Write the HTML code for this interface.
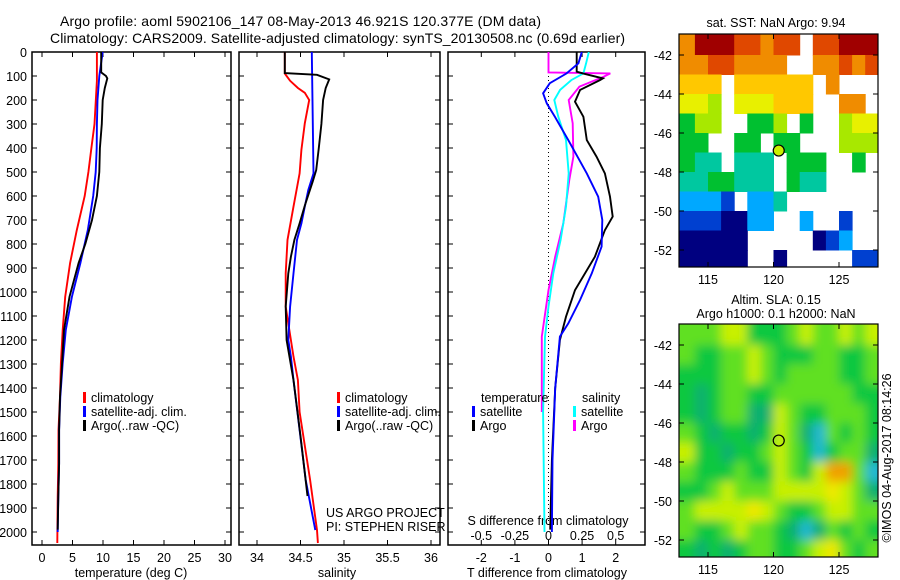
<!DOCTYPE html>
<html><head><meta charset="utf-8"><style>
html,body{margin:0;padding:0;background:#fff;}
svg{display:block;font-family:"Liberation Sans",sans-serif;}
text{font-size:12.5px;fill:#000;}
</style></head><body>
<svg id="fig" width="900" height="580" viewBox="0 0 900 580">
<defs>
<clipPath id="c1"><rect x="32" y="52" width="199" height="493"/></clipPath>
<clipPath id="c2"><rect x="239" y="52" width="201" height="493"/></clipPath>
<clipPath id="c3"><rect x="448" y="52" width="197" height="493"/></clipPath>
<clipPath id="cm1"><rect x="679" y="34" width="199" height="233"/></clipPath>
<clipPath id="cm2"><rect x="679" y="324" width="199" height="233"/></clipPath>
<filter id="blur" x="-5%" y="-5%" width="110%" height="110%"><feGaussianBlur stdDeviation="5"/></filter>
</defs>
<text x="60" y="26" textLength="481" style="font-size:14px">Argo profile: aoml 5902106_147 08-May-2013 46.921S 120.377E (DM data)</text>
<text x="50" y="43" textLength="575" style="font-size:14px">Climatology: CARS2009. Satellite-adjusted climatology: synTS_20130508.nc (0.69d earlier)</text>
<g id="layer"></g>
</svg>
<script>
// ---------- data ----------
const depthTicks = [0,100,200,300,400,500,600,700,800,900,1000,1100,1200,1300,1400,1500,1600,1700,1800,1900,2000];
const tempTicks = [0,5,10,15,20,25,30];
const salTicks = [34,34.5,35,35.5,36];
const tdiffTicks = [-2,-1,0,1,2];
const sdiffTickLabels = ["-0.5","-0.25","0","0.25","0.5"];
const latTicks = [-42,-44,-46,-48,-50,-52];
const lonTicks = [115,120,125];

const tempClimDepth = [0,120,300,400,500,600,742,879,1020,1158,1296,1437,1575,1715,1854,2046];
const tempClimVal = [9.0,9.0,8.6,8.1,7.6,7.0,5.7,4.6,3.8,3.4,3.1,2.95,2.7,2.68,2.57,2.5];
const tempSatDepth = [0,100,200,300,400,500,600,742,879,1020,1158,1296,1437,1575,1715,1854,2000];
const tempSatVal = [9.95,9.4,9.1,9.0,8.96,8.8,8.4,7.5,6.3,4.9,3.9,3.4,3.0,2.8,2.8,2.67,2.57];
const tempArgoDepth = [0,85,100,110,150,200,300,400,500,600,700,800,879,1020,1158,1296,1437,1575,1715,1854,1990];
const tempArgoVal = [9.7,9.7,10.5,10.7,10.3,9.95,9.8,9.5,9.4,9.0,8.2,7.1,6.0,4.5,3.6,3.3,2.95,2.8,2.8,2.67,2.57];

const salClimDepth = [0,90,100,120,150,170,200,297,408,506,644,783,853,922,1061,1131,1200,1269,1367,1500,1783,1992,2046];
const salClimVal = [34.32,34.32,34.34,34.38,34.47,34.55,34.60,34.55,34.51,34.49,34.42,34.35,34.34,34.33,34.33,34.36,34.39,34.42,34.47,34.49,34.61,34.69,34.70];
const salSatDepth = [0,506,575,644,714,783,922,1061,1200,1269,1367,1783,1992];
const salSatVal = [34.63,34.65,34.59,34.55,34.51,34.46,34.42,34.38,34.36,34.39,34.42,34.56,34.67];
const salArgoDepth = [0,88,95,114,150,200,300,400,492,540,640,714,783,853,922,1061,1200,1367,1600,1850];
const salArgoVal = [34.32,34.32,34.69,34.83,34.79,34.76,34.74,34.71,34.68,34.64,34.55,34.49,34.43,34.39,34.36,34.33,34.34,34.42,34.50,34.58];

const tdArgoDepth = [0,82,90,110,117,158,207,270,367,436,506,603,686,742,853,992,1103,1200,1400,1700,1990];
const tdArgoVal = [0.84,0.84,1.04,1.62,1.53,0.94,0.79,1.04,1.14,1.43,1.68,1.83,1.91,1.68,1.38,0.79,0.52,0.34,0.2,0.1,0.05];
const tdSatDepth = [0,47,89,130,172,214,270,367,506,603,700,811,922,1033,1131,1186,1400,1700,2000];
const tdSatVal = [0.99,0.89,0.54,0.04,-0.16,-0.05,0.19,0.59,1.14,1.48,1.60,1.58,1.29,0.94,0.59,0.34,0.2,0.12,0.1];
const sdSatDepth = [0,47,89,117,158,200,270,367,506,644,783,922,1061,1186,1500,2000];
const sdSatVal = [0.30,0.28,0.26,0.17,0.086,0.043,0.073,0.13,0.15,0.13,0.09,0.036,0,-0.026,-0.04,-0.03];
const sdArgoDepth = [0,85,89,103,144,200,297,436,533,714,853,992,1186,1500];
const sdArgoVal = [0,0,0.46,0.41,0.23,0.15,0.18,0.185,0.155,0.11,0.05,0,-0.05,-0.05];

const sstRows = [
"799988788.88999",
"77887777..77878",
"666.666666.7...",
"554.555666..77.",
"344..334.3..455",
"33..33.33...444",
"322.222.333..3.",
"2233222.322....",
"1110.112.......",
"000NN11..1..0..",
"NNNNN.....N01..",
"NNNNN..N.....00"
];
const slaRows = [
[5,5,5,6,6,4,4,4,5,6,5,5,6,5,6],
[5,4,4,5,5,6,5,4,4,4,5,5,4,4,5],
[4,4,4,5,5,6,5,4,5,5,5,5,4,4,5],
[4,3,4,5,5,4,4,5,5,5,5,5,5,4,4],
[4,3,4,5,5,3,3,6,5,4,4,5,5,5,4],
[5,4,3,4,4,3,4,6,5,3,2,5,4,5,4],
[6,4,4,3,4,4,5,6,5,4,2,4,5,5,3],
[5,4,4,4,5,4,4,6,5,4,6,8,8,5,2],
[4,4,5,6,5,5,5,6,6,6,6,7,6,5,3],
[5,6,6,6,6,7,6,5,4,4,5,6,6,5,5],
[5,4,4,5,6,5,5,4,3,2,3,5,4,5,4],
[4,3,4,3,4,5,5,4,4,5,6,7,5,4,5]
];
const argoLon = 120.4, argoLat = -46.9;

// ---------- helpers ----------
const NS = "http://www.w3.org/2000/svg";
const layer = document.getElementById('layer');
function mk(tag, attrs, parent){ const e=document.createElementNS(NS,tag); for(const k in attrs) e.setAttribute(k,attrs[k]); (parent||layer).appendChild(e); return e; }
function txt(x,y,s,anchor,parent){ const t=mk('text',{x:x,y:y,'text-anchor':anchor||'start'},parent); t.textContent=s; return t; }

const yD = d => 52 + d*0.24;
const xT = v => 42 + v*6.1;
const xS = v => 257 + (v-34)*87;
const xTd = v => 548.5 + v*33.6;
const xSd = v => 548.5 + v*134.4;

function panel(x0,w,name){
  const r=mk('rect',{x:x0,y:52,width:w,height:493,fill:'none',stroke:'#000','stroke-width':1.5});
  
  
}
function xticks(xs, fn){
  xs.forEach(v=>{ const x=fn(v); mk('line',{x1:x,x2:x,y1:52,y2:57,stroke:'#000'}); mk('line',{x1:x,x2:x,y1:540,y2:545,stroke:'#000'}); });
}
function series(ds, vs, fx, color, clip, name){
  const pts = ds.map((d,i)=>fx(vs[i]).toFixed(1)+','+yD(d).toFixed(1)).join(' ');
  const p=mk('polyline',{points:pts,fill:'none',stroke:color,'stroke-width':1.9,'clip-path':'url(#'+clip+')'});
  
  
}

panel(32,199,'temperature-panel');
panel(239,201,'salinity-panel');
panel(448,197,'difference-panel');

depthTicks.forEach(d=>{
  const y=yD(d);
  const t=txt(27,y+5,String(d),'end');
  
  
  [[32,37],[226,231],[239,244],[435,440],[448,453],[640,645]].forEach(a=>mk('line',{x1:a[0],x2:a[1],y1:y,y2:y,stroke:'#000'}));
});

xticks(tempTicks,xT); xticks(salTicks,xS); xticks(tdiffTicks,xTd);
tempTicks.forEach(v=>{ const t=txt(xT(v),562,String(v),'middle');   });
salTicks.forEach(v=>{ const t=txt(xS(v),562,String(v),'middle');   });
tdiffTicks.forEach(v=>{ const t=txt(xTd(v),562,String(v),'middle');   });
sdiffTickLabels.forEach((s,i)=>{ const t=txt(xTd(tdiffTicks[i]),540,s,'middle');   });

let t;
t=txt(131,577,'temperature (deg C)','middle');  
t=txt(337,577,'salinity','middle');  
t=txt(547,577,'T difference from climatology','middle');  
t=txt(548,525,'S difference from climatology','middle');  

mk('line',{x1:548.5,x2:548.5,y1:52,y2:528,stroke:'#000','stroke-dasharray':'1,3'});

series(tempClimDepth,tempClimVal,xT,'#ff0000','c1','temp-climatology-line');
series(tempSatDepth,tempSatVal,xT,'#0000ff','c1','temp-satellite-line');
series(tempArgoDepth,tempArgoVal,xT,'#000000','c1','temp-argo-line');
series(salClimDepth,salClimVal,xS,'#ff0000','c2','sal-climatology-line');
series(salSatDepth,salSatVal,xS,'#0000ff','c2','sal-satellite-line');
series(salArgoDepth,salArgoVal,xS,'#000000','c2','sal-argo-line');
series(sdArgoDepth,sdArgoVal,xSd,'#ff00ff','c3','sdiff-argo-line');
series(sdSatDepth,sdSatVal,xSd,'#00ffff','c3','sdiff-satellite-line');
series(tdArgoDepth,tdArgoVal,xTd,'#000000','c3','tdiff-argo-line');
series(tdSatDepth,tdSatVal,xTd,'#0000ff','c3','tdiff-satellite-line');

function legItem(x,y,color,label,name){
  const g=mk('g',{});
  
  
  mk('rect',{x:x,y:y-10,width:3,height:11,fill:color},g);
  txt(x+8,y,label,'start',g);
}
legItem(83,402,'#ff0000','climatology','legend-climatology');
legItem(83,416,'#0000ff','satellite-adj. clim.','legend-satellite');
legItem(83,430,'#000000','Argo(..raw -QC)','legend-argo');
legItem(337,402,'#ff0000','climatology','legend-climatology-2');
legItem(337,416,'#0000ff','satellite-adj. clim.','legend-satellite-2');
legItem(337,430,'#000000','Argo(..raw -QC)','legend-argo-2');
t=txt(481,402,'temperature');  
t=txt(582,402,'salinity');  
legItem(472,416,'#0000ff','satellite','legend-t-satellite');
legItem(472,430,'#000000','Argo','legend-t-argo');
legItem(573,416,'#00ffff','satellite','legend-s-satellite');
legItem(573,430,'#ff00ff','Argo','legend-s-argo');
t=txt(326,517,'US ARGO PROJECT');  
t=txt(326,531,'PI: STEPHEN RISER');  

// ---------- maps ----------
const mx = lon => 708 + (lon-115)*13.1;
const my = (lat,off) => off + 55 + (-42-lat)*19.5;
const sstCol = {N:'#000080','0':'#0040d0','1':'#00a8ff','2':'#00c8a0','3':'#00c030','4':'#a8e800','5':'#e8f000','6':'#ffc800','7':'#f08c00','8':'#e04800','9':'#a00000'};
const slaCol = {2:'#20b8d0',3:'#10b070',4:'#10c840',5:'#60e020',6:'#c8f000',7:'#f0e800',8:'#f0a000'};

const g1=mk('g',{});


sstRows.forEach((row,i)=>{
  for(let j=0;j<15;j++){
    const c=row[j]; if(!c||c==='.') continue;
    const lon0=113+j-(j===0?0.5:0), lon1=114+j+(j===14?1:0);
    const lat0=-41-i+(i===0?0.5:0), lat1=-42-i-(i===11?0.5:0);
    const r=mk('rect',{x:mx(lon0),y:my(lat0,0),width:mx(lon1)-mx(lon0)+0.5,height:my(lat1,0)-my(lat0,0)+0.5,fill:sstCol[c],'clip-path':'url(#cm1)'},g1);
    
    
  }
});
const g2=mk('g',{});


const g2b=mk('g',{'clip-path':'url(#cm2)'},g2);
const g2c=mk('g',{filter:'url(#blur)'},g2b);
slaRows.forEach((row,i)=>{
  row.forEach((v,j)=>{
    const lon0=113+j-(j===0?1:0), lon1=114+j+(j===14?1:0);
    const lat0=-41-i+(i===0?1:0), lat1=-42-i-(i===11?1:0);
    const r=mk('rect',{x:mx(lon0),y:my(lat0,290),width:mx(lon1)-mx(lon0)+0.5,height:my(lat1,290)-my(lat0,290)+0.5,fill:slaCol[v]},g2c);
    
    
  });
});
[0,290].forEach((off,k)=>{
  const y0=34+off,y1=267+off;
  mk('rect',{x:679,y:y0,width:199,height:233,fill:'none',stroke:'#000','stroke-width':1.2});
  latTicks.forEach(l=>{ const y=my(l,off); mk('line',{x1:679,x2:684,y1:y,y2:y,stroke:'#000'}); mk('line',{x1:873,x2:878,y1:y,y2:y,stroke:'#000'});
    const tt=txt(672,y+5,String(l),'end');   });
  lonTicks.forEach(l=>{ const x=mx(l); mk('line',{x1:x,x2:x,y1:y0,y2:y0+5,stroke:'#000'}); mk('line',{x1:x,x2:x,y1:y1-5,y2:y1,stroke:'#000'});
    const tt=txt(x,y1+17,String(l),'middle');   });
  const c=mk('circle',{cx:mx(argoLon),cy:my(argoLat,off),r:5.5,fill:k===0?'#c8f000':'none',stroke:'#000','stroke-width':1.2});
  
  
});
t=txt(776,27,'sat. SST: NaN Argo: 9.94','middle');  
t=txt(776,304,'Altim. SLA: 0.15','middle');  
t=txt(776,318,'Argo h1000: 0.1 h2000: NaN','middle');  
t=txt(0,0,'©IMOS 04-Aug-2017 08:14:26','middle');
t.setAttribute('transform','translate(891,458) rotate(-90)');


</script>
</body></html>
